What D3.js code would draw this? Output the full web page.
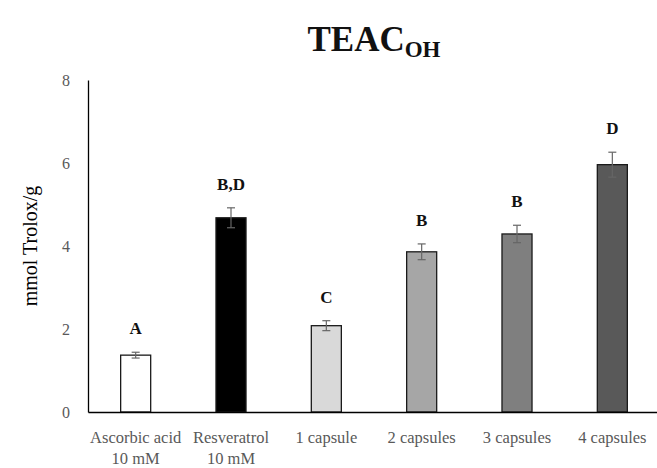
<!DOCTYPE html>
<html>
<head>
<meta charset="utf-8">
<script src="https://cdn.jsdelivr.net/npm/d3@7"></script>
<style>
  body { margin: 0; background: #fff; }
  text { font-family: "Liberation Serif", "DejaVu Serif", serif; }
</style>
</head>
<body>
<div id="chart"></div>
<script>
const categories = ["Ascorbic acid\n10 mM", "Resveratrol\n10 mM", "1 capsule", "2 capsules", "3 capsules", "4 capsules"];
const values = [1.37, 4.68, 2.08, 3.86, 4.29, 5.96];
const errors = [0.07, 0.24, 0.12, 0.19, 0.21, 0.30];
const letters = ["A", "B,D", "C", "B", "B", "D"];
const fills = ["#ffffff", "#000000", "#d9d9d9", "#a6a6a6", "#7f7f7f", "#595959"];
const yTicks = [0, 2, 4, 6, 8];

const width = 657, height = 468;
const margin = {top: 80, right: -3, bottom: 56, left: 88};

const svg = d3.select("#chart").append("svg")
    .attr("width", width).attr("height", height);

const x = d3.scaleBand().domain(categories)
    .range([margin.left, width - margin.right])
    .paddingInner(0.685).paddingOuter(0.3425);
const y = d3.scaleLinear().domain([0, 8]).range([height - margin.bottom, margin.top]);

// title
const title = svg.append("text")
    .attr("x", 374).attr("y", 51)
    .attr("text-anchor", "middle")
    .style("font-weight", "bold").style("font-size", "35px").style("fill", "#111");
title.append("tspan").text("TEAC");
title.append("tspan").attr("dy", 6).style("font-size", "23px").text("OH");

// y axis
const yAxis = svg.append("g")
    .attr("transform", `translate(${margin.left},0)`)
    .call(d3.axisLeft(y).tickValues(yTicks).tickSize(0).tickPadding(18));
yAxis.select(".domain").attr("stroke", "#000").attr("stroke-width", 1.3);
yAxis.selectAll("text").style("font-size", "16px").style("fill", "#595959")
    .style("font-family", "Liberation Serif, serif");

svg.append("text")
    .attr("transform", `translate(37,${y(4)}) rotate(-90)`)
    .attr("text-anchor", "middle")
    .style("font-size", "20px").style("fill", "#000")
    .text("mmol Trolox/g");

// bars
svg.selectAll(".bar").data(values).enter().append("rect")
    .attr("x", (d, i) => x(categories[i]))
    .attr("y", d => y(d))
    .attr("width", x.bandwidth())
    .attr("height", d => y(0) - y(d))
    .attr("fill", (d, i) => fills[i])
    .attr("stroke", "#1a1a1a").attr("stroke-width", 1.3);

// error bars
const cx = i => x(categories[i]) + x.bandwidth() / 2;
values.forEach((v, i) => {
    const g = svg.append("g").attr("stroke", "#666").attr("stroke-width", 1.2);
    g.append("line").attr("x1", cx(i)).attr("x2", cx(i))
        .attr("y1", y(v + errors[i])).attr("y2", y(v - errors[i]));
    g.append("line").attr("x1", cx(i) - 4).attr("x2", cx(i) + 4)
        .attr("y1", y(v + errors[i])).attr("y2", y(v + errors[i]));
    g.append("line").attr("x1", cx(i) - 4).attr("x2", cx(i) + 4)
        .attr("y1", y(v - errors[i])).attr("y2", y(v - errors[i]));
    svg.append("text")
        .attr("x", cx(i)).attr("y", y(v + errors[i]) - 18)
        .attr("text-anchor", "middle")
        .style("font-weight", "bold").style("font-size", "17px").style("fill", "#111")
        .text(letters[i]);
});

// x axis
const xAxis = svg.append("g")
    .attr("transform", `translate(0,${y(0)})`)
    .call(d3.axisBottom(x).tickSize(0).tickFormat(""));
xAxis.select(".domain").attr("stroke", "#000").attr("stroke-width", 1.3);

categories.forEach(c => {
    const t = svg.append("text")
        .attr("x", x(c) + x.bandwidth() / 2).attr("y", y(0) + 31)
        .attr("text-anchor", "middle")
        .style("font-size", "16.5px").style("fill", "#595959");
    c.split("\n").forEach((line, j) => {
        t.append("tspan").attr("x", x(c) + x.bandwidth() / 2)
            .attr("dy", j === 0 ? 0 : 21).text(line);
    });
});
</script>
</body>
</html>
